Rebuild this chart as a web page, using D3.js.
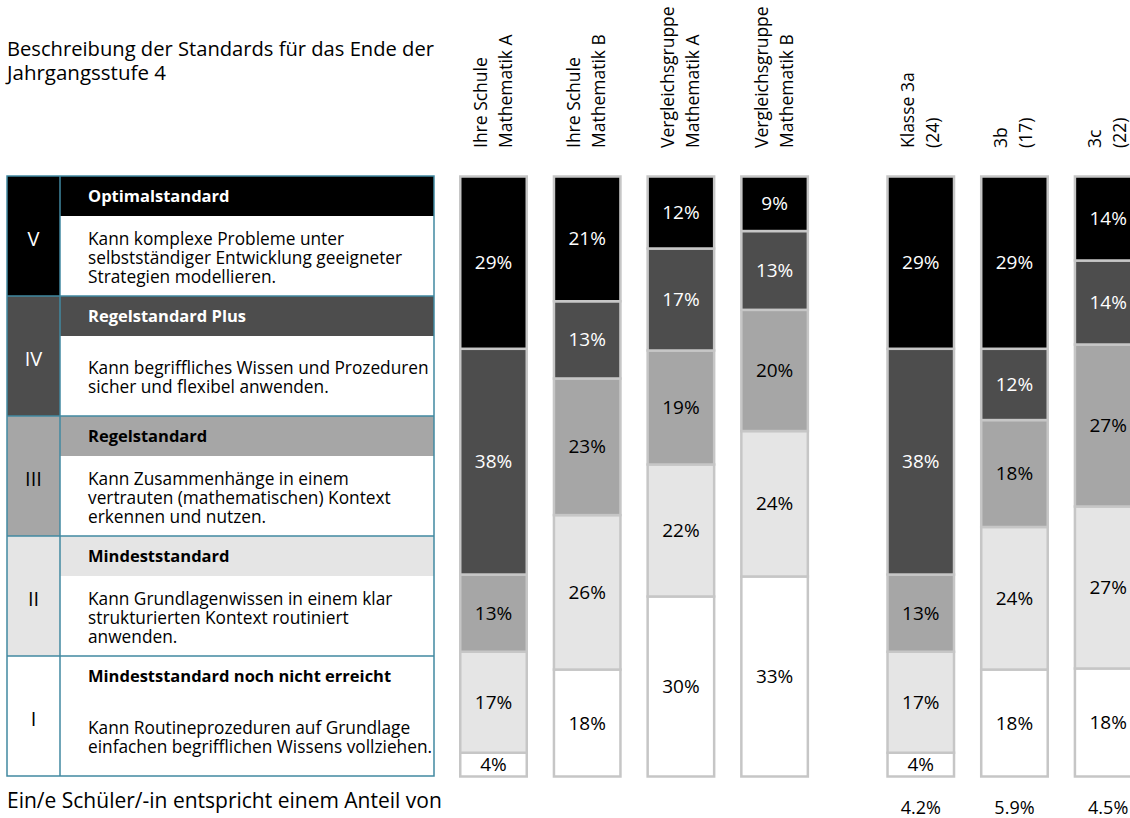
<!DOCTYPE html>
<html>
<head>
<meta charset="utf-8">
<script src="https://cdn.jsdelivr.net/npm/d3@7"></script>
<style>
  body { margin: 0; background: #fff; }
  svg { display: block; font-family: "Open Sans", "Noto Sans", sans-serif; }
</style>
</head>
<body>
<div id="chart"></div>
<script>
// levels, top to bottom in the table
const levels = ["V", "IV", "III", "II", "I"];
const levelTitles = [
  "Optimalstandard",
  "Regelstandard Plus",
  "Regelstandard",
  "Mindeststandard",
  "Mindeststandard noch nicht erreicht"
];
const levelDescriptions = [
  ["Kann komplexe Probleme unter", "selbstständiger Entwicklung geeigneter", "Strategien modellieren."],
  ["Kann begriffliches Wissen und Prozeduren", "sicher und flexibel anwenden."],
  ["Kann Zusammenhänge in einem", "vertrauten (mathematischen) Kontext", "erkennen und nutzen."],
  ["Kann Grundlagenwissen in einem klar", "strukturierten Kontext routiniert", "anwenden."],
  ["Kann Routineprozeduren auf Grundlage", "einfachen begrifflichen Wissens vollziehen."]
];

// columns
const columnLine1 = ["Ihre Schule", "Ihre Schule", "Vergleichsgruppe", "Vergleichsgruppe", "Klasse 3a", "3b", "3c"];
const columnLine2 = ["Mathematik A", "Mathematik B", "Mathematik A", "Mathematik B", "(24)", "(17)", "(22)"];
const columnGroup = [0, 0, 0, 0, 1, 1, 1];

// percentages per level
const levelV   = [29, 21, 12, 9, 29, 29, 14];
const levelIV  = [38, 13, 17, 13, 38, 12, 14];
const levelIII = [13, 23, 19, 20, 13, 18, 27];
const levelII  = [17, 26, 22, 24, 17, 24, 27];
const levelI   = [4, 18, 30, 33, 4, 18, 18];

// share of one student per class
const studentShare = [null, null, null, null, 4.2, 5.9, 4.5];

const titleLines = ["Beschreibung der Standards für das Ende der", "Jahrgangsstufe 4"];
const footerText = "Ein/e Schüler/-in entspricht einem Anteil von";

const width = 1130, height = 818;
const svg = d3.select("#chart").append("svg")
  .attr("width", width)
  .attr("height", height);

const fillColor = d3.scaleOrdinal(levels, ["#000000", "#4d4d4d", "#a6a6a6", "#e5e5e5", "#ffffff"]);
const textColor = d3.scaleOrdinal(levels, ["#ffffff", "#ffffff", "#000000", "#000000", "#000000"]);

// title
svg.append("g").selectAll("text")
  .data(titleLines)
  .join("text")
  .attr("x", 7)
  .attr("y", (d, i) => 56 + i * 24)
  .attr("font-size", 20.5)
  .attr("fill", "#000")
  .attr("textLength", (d, i) => i === 0 ? 427 : null)
  .attr("lengthAdjust", "spacingAndGlyphs")
  .text(d => d);

// ---- table ----
const tableLeft = 7, tableRight = 434, numCol = 60;
const rowScale = d3.scaleBand().domain(levels).range([176, 776]);
const bandH = 40;
const lineColor = "#4189a1";

const rows = svg.append("g").selectAll("g")
  .data(levels)
  .join("g")
  .attr("transform", d => `translate(0,${rowScale(d)})`);

rows.append("rect")
  .attr("x", tableLeft).attr("width", numCol - tableLeft)
  .attr("height", rowScale.bandwidth())
  .attr("fill", d => fillColor(d));

rows.append("rect")
  .attr("x", numCol).attr("width", tableRight - numCol)
  .attr("height", bandH)
  .attr("fill", d => fillColor(d));

rows.append("text")
  .attr("x", (tableLeft + numCol) / 2)
  .attr("y", rowScale.bandwidth() / 2 + 10)
  .attr("text-anchor", "middle")
  .attr("font-size", 20)
  .attr("fill", d => textColor(d))
  .text(d => d);

rows.append("text")
  .attr("x", 88)
  .attr("y", bandH / 2 + 6)
  .attr("font-size", 16.5)
  .attr("font-weight", "bold")
  .attr("fill", d => textColor(d))
  .text((d, i) => levelTitles[i]);

rows.each(function(d, i) {
  const lines = levelDescriptions[i];
  const mid = bandH + (rowScale.bandwidth() - bandH) / 2;
  d3.select(this).append("g").selectAll("text")
    .data(lines)
    .join("text")
    .attr("x", 88)
    .attr("y", (l, j) => mid + 7.5 + (j - (lines.length - 1) / 2) * 19)
    .attr("font-size", 17.3)
    .attr("fill", "#000")
    .text(l => l);
});

// grid lines of the table
const grid = svg.append("g")
  .attr("stroke", lineColor)
  .attr("stroke-width", 1.5)
  .attr("fill", "none");
grid.selectAll("line.row")
  .data(levels.slice(1))
  .join("line")
  .attr("class", "row")
  .attr("x1", tableLeft).attr("x2", tableRight)
  .attr("y1", d => rowScale(d)).attr("y2", d => rowScale(d));
grid.append("rect")
  .attr("x", tableLeft).attr("y", rowScale.range()[0])
  .attr("width", tableRight - tableLeft)
  .attr("height", rowScale.range()[1] - rowScale.range()[0]);
grid.append("line")
  .attr("x1", numCol).attr("x2", numCol)
  .attr("y1", rowScale.range()[0]).attr("y2", rowScale.range()[1]);

// ---- stacked bars ----
const stackKeys = ["I", "II", "III", "IV", "V"];
const tableData = columnLine1.map((c, i) => ({
  index: i,
  I: levelI[i], II: levelII[i], III: levelIII[i], IV: levelIV[i], V: levelV[i]
}));
const series = d3.stack().keys(stackKeys).offset(d3.stackOffsetExpand)(tableData);

const xScale = d3.scaleLinear().domain([0, 1]).range([459, 552.7]);
const barLeft = i => xScale(i + columnGroup[i] * 0.56);
const barW = 69;
const yScale = d3.scaleLinear().domain([0, 1]).range([776.5, 176.5]);

const layers = svg.append("g").selectAll("g")
  .data(series)
  .join("g");

layers.selectAll("rect")
  .data(s => s.map(p => ({ key: s.key, p })))
  .join("rect")
  .attr("x", d => barLeft(d.p.data.index) + 1.25)
  .attr("width", barW - 2.5)
  .attr("y", d => yScale(d.p[1]))
  .attr("height", d => yScale(d.p[0]) - yScale(d.p[1]))
  .attr("fill", d => fillColor(d.key))
  .attr("stroke", "#c6c6c6")
  .attr("stroke-width", 2.5);

layers.selectAll("text")
  .data(s => s.map(p => ({ key: s.key, p })))
  .join("text")
  .attr("x", d => barLeft(d.p.data.index) + barW / 2)
  .attr("y", d => (yScale(d.p[0]) + yScale(d.p[1])) / 2 + 6.5)
  .attr("text-anchor", "middle")
  .attr("font-size", 19)
  .attr("fill", d => textColor(d.key))
  .text(d => d.p.data[d.key] + "%");

// column headers (rotated)
const headers = svg.append("g").selectAll("g")
  .data(columnLine1)
  .join("g")
  .attr("transform", (d, i) => `translate(${barLeft(i) + barW / 2},148)`);
headers.append("text")
  .attr("transform", "translate(-7,0) rotate(-90)")
  .attr("font-size", 17.5)
  .attr("fill", "#000")
  .text(d => d);
headers.append("text")
  .attr("transform", "translate(18,0) rotate(-90)")
  .attr("font-size", 17.5)
  .attr("fill", "#000")
  .text((d, i) => columnLine2[i]);

// footer
svg.append("text")
  .attr("x", 7)
  .attr("y", 808)
  .attr("font-size", 21)
  .attr("fill", "#000")
  .text(footerText);

svg.append("g").selectAll("text")
  .data(studentShare.map((v, i) => ({ v, i })).filter(d => d.v !== null))
  .join("text")
  .attr("x", d => barLeft(d.i) + barW / 2)
  .attr("y", 814)
  .attr("text-anchor", "middle")
  .attr("font-size", 18)
  .attr("fill", "#000")
  .text(d => d.v.toFixed(1) + "%");
</script>
</body>
</html>
